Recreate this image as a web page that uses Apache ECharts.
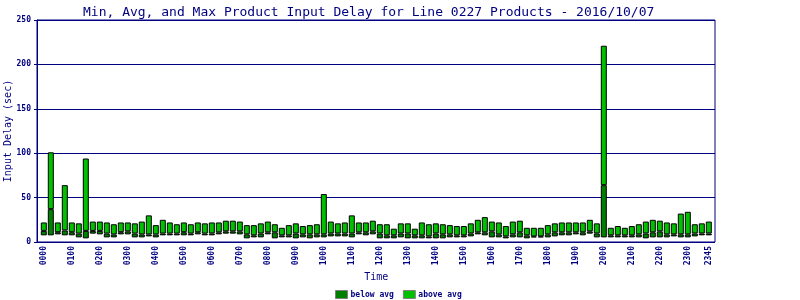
<!DOCTYPE html>
<html>
<head>
<meta charset="utf-8">
<script src="https://cdn.jsdelivr.net/npm/echarts@6/dist/echarts.min.js"></script>
<style>html,body{margin:0;padding:0;background:#fff}#c{width:800px;height:300px}</style>
</head>
<body>
<div id="c"></div>
<script>
var categories = ["0000","0015","0030","0045","0100","0115","0130","0145","0200","0215","0230","0245",
"0300","0315","0330","0345","0400","0415","0430","0445","0500","0515","0530","0545",
"0600","0615","0630","0645","0700","0715","0730","0745","0800","0815","0830","0845",
"0900","0915","0930","0945","1000","1015","1030","1045","1100","1115","1130","1145",
"1200","1215","1230","1245","1300","1315","1330","1345","1400","1415","1430","1445",
"1500","1515","1530","1545","1600","1615","1630","1645","1700","1715","1730","1745",
"1800","1815","1830","1845","1900","1915","1930","1945","2000","2015","2030","2045",
"2100","2115","2130","2145","2200","2215","2230","2245","2300","2315","2330","2345"];

var minDelay = [7.5,7.5,8.6,7.5,7.5,5.2,4.1,9.4,8.6,5.2,5.2,8.6,8.6,5.2,5.2,6.3,5.2,7.5,7.5,7.5,7.5,7.5,8.6,7.5,
7.5,8.6,9.4,9.4,8.6,4.1,5.2,5.2,8.6,4.1,5.2,5.2,4.1,5.2,4.1,5.2,5.2,6.3,6.3,6.3,5.2,8.6,7.5,8.6,
4.1,4.1,4.1,5.2,4.1,4.1,4.1,4.1,4.1,4.1,5.2,5.2,5.2,6.3,8.6,7.5,5.2,5.2,4.1,5.2,5.2,4.1,5.2,5.2,
5.2,6.3,7.5,7.5,8.6,7.5,9.4,5.2,5.2,5.2,5.2,5.2,5.2,5.2,4.1,5.2,5.2,5.2,6.3,5.2,5.2,6.3,7.5,7.5];

var avgDelay = [12.5,37,11,13,11,9.5,12.5,12.5,12.5,9.5,8.5,11,12,9.5,8.5,8.5,8.5,9.5,9.5,9.5,11,9.5,11,9.5,
9.6,10.9,12,12,12,8.6,7.5,9.6,10.9,10.9,7.5,7.5,9.6,8.6,8.6,8.6,8.6,9.6,9.6,9.6,9.6,10.9,10.9,12,
9.6,7.5,7.5,9.6,9.6,7.5,7.5,6.3,9.6,8.6,8.6,7.5,7.5,9.6,10.9,10.9,12,8.6,6.3,8.6,10.9,7.5,6.3,6.3,
8.6,10.9,10.9,10.9,10.9,10.9,12,9.6,64,7.5,7.5,7.5,7.5,8.6,9.6,10.9,12,8.6,8.6,8.6,8.6,9.6,9.6,9.6];

var maxDelay = [22,101,22,64,22,21,94,23,23,22,20,22,22,21,23,30,19,25,22,20,22,20,22,21,
22,22,24,24,23,19,19,21,23,20,16,19,21,18,19,20,54,23,21,22,30,22,22,24,
20,20,15,21,21,15,22,20,21,20,19,18,18,21,25,28,23,22,18,23,24,16,16,16,
19,21,22,22,22,22,25,21,221,16,18,16,18,20,23,25,24,22,21,32,34,20,21,23];

var yTicks = [0, 50, 100, 150, 200, 250];

var belowPart = minDelay.map(function(v, i){ return +(avgDelay[i] - v).toFixed(2); });
var abovePart = maxDelay.map(function(v, i){ return +(v - avgDelay[i]).toFixed(2); });

var NAVY = '#000080';
var MONO = '"DejaVu Sans Mono", "Liberation Mono", monospace';

var chart = echarts.init(document.getElementById('c'), null, {renderer: 'canvas'});
chart.setOption({
  animation: false,
  backgroundColor: '#ffffff',
  title: {
    text: 'Min, Avg, and Max Product Input Delay for Line 0227 Products - 2016/10/07',
    left: 78, top: 1,
    textStyle: {fontFamily: MONO, fontSize: 13, fontWeight: 'normal', color: NAVY}
  },
  legend: {
    data: ['below avg', 'above avg'],
    left: 330, top: 285,
    itemWidth: 12, itemHeight: 8, itemGap: 9,
    icon: 'rect',
    itemStyle: {borderColor: '#808080', borderWidth: 1},
    textStyle: {fontFamily: MONO, fontSize: 8, fontWeight: 'bold', color: NAVY, padding: [0,0,0,-2]}
  },
  grid: [
    {left: 37, right: 85, top: 20, bottom: 58, show: true, borderColor: NAVY, borderWidth: 1,
     backgroundColor: 'transparent', containLabel: false, outerBoundsMode: 'none'},
    {left: 40.3, right: 87.7, top: 20, bottom: 58, containLabel: false, outerBoundsMode: 'none'}
  ],
  xAxis: [
    {gridIndex: 0, type: 'value', min: 0, max: 1, show: false},
    {gridIndex: 1, type: 'category', data: categories,
     name: 'Time', nameLocation: 'middle', nameGap: 30, nameMoveOverlap: false,
     nameTextStyle: {fontFamily: MONO, fontSize: 10, color: NAVY},
     axisLine: {show: false}, axisTick: {show: false},
     axisLabel: {
       rotate: 90, margin: 4, fontFamily: MONO, fontSize: 8, fontWeight: 'bold', color: NAVY,
       interval: function(index){ return index % 4 === 0 || index === categories.length - 1; }
     }}
  ],
  yAxis: [
    {gridIndex: 0, type: 'value', min: yTicks[0], max: yTicks[yTicks.length-1], interval: 50,
     name: 'Input Delay (sec)', nameLocation: 'middle', nameGap: 24, nameRotate: 90, nameMoveOverlap: false,
     nameTextStyle: {fontFamily: MONO, fontSize: 10, color: NAVY},
     axisLine: {show: true, lineStyle: {color: NAVY}},
     axisTick: {show: true, length: 3, lineStyle: {color: NAVY}},
     axisLabel: {margin: 6, fontFamily: MONO, fontSize: 8, fontWeight: 'bold', color: NAVY},
     splitLine: {show: true, lineStyle: {color: NAVY, width: 1}}},
    {gridIndex: 1, type: 'value', min: 0, max: 250, show: false, splitLine: {show: false}}
  ],
  series: [
    {name: 'base', type: 'bar', xAxisIndex: 1, yAxisIndex: 1, stack: 'd', barWidth: 6,
     itemStyle: {color: 'transparent', borderWidth: 0}, data: minDelay, silent: true},
    {name: 'below avg', type: 'bar', xAxisIndex: 1, yAxisIndex: 1, stack: 'd', barWidth: 6,
     itemStyle: {color: '#008000', borderColor: '#000000', borderWidth: 1}, data: belowPart},
    {name: 'above avg', type: 'bar', xAxisIndex: 1, yAxisIndex: 1, stack: 'd', barWidth: 6,
     itemStyle: {color: '#00C000', borderColor: '#000000', borderWidth: 1}, data: abovePart}
  ]
});
</script>
</body>
</html>
